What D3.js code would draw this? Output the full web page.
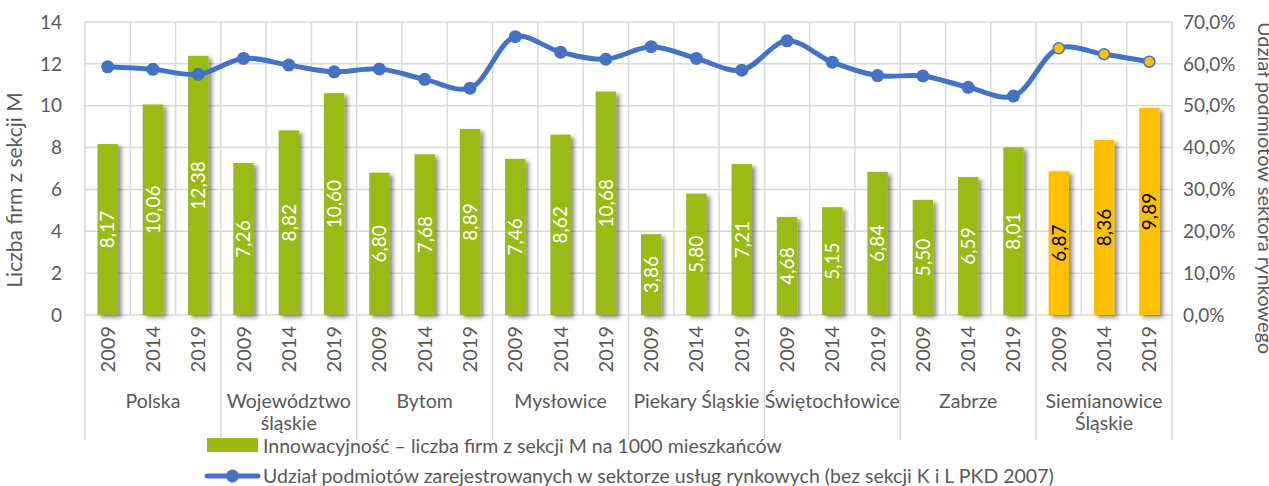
<!DOCTYPE html>
<html>
<head>
<meta charset="utf-8">
<script src="https://cdn.jsdelivr.net/npm/d3@7/dist/d3.min.js"></script>
<style>
  html, body { margin: 0; padding: 0; background: #fff; }
  svg { display: block; font-family: Lato, "Liberation Sans", sans-serif; }
</style>
</head>
<body>
<svg id="chart" width="1269" height="486"></svg>
<script>
// Regions (multi-line labels) and survey years
const regions = [
  ["Polska"],
  ["Województwo", "śląskie"],
  ["Bytom"],
  ["Mysłowice"],
  ["Piekary Śląskie"],
  ["Świętochłowice"],
  ["Zabrze"],
  ["Siemianowice", "Śląskie"]
];
const years = ["2009", "2014", "2019"];
const highlightedRegion = 7;

// Firms from section M per 1000 inhabitants (left axis)
const firms = [
  8.17, 10.06, 12.38,
  7.26, 8.82, 10.60,
  6.80, 7.68, 8.89,
  7.46, 8.62, 10.68,
  3.86, 5.80, 7.21,
  4.68, 5.15, 6.84,
  5.50, 6.59, 8.01,
  6.87, 8.36, 9.89
];

// Share of entities registered in market services, % (right axis)
const share = [
  59.3, 58.7, 57.5,
  61.3, 59.7, 58.1,
  58.8, 56.3, 54.2,
  66.5, 62.8, 61.1,
  64.1, 61.3, 58.5,
  65.5, 60.4, 57.2,
  57.1, 54.4, 52.3,
  63.7, 62.3, 60.5
];

const leftTicks = [0, 2, 4, 6, 8, 10, 12, 14];
const rightTicks = [0, 10, 20, 30, 40, 50, 60, 70];

const legendLabels = [
  "Innowacyjność – liczba firm z sekcji M na 1000 mieszkańców",
  "Udział podmiotów zarejestrowanych w sektorze usług rynkowych (bez sekcji K i L PKD 2007)"
];
const leftTitle = "Liczba firm z sekcji M";
const rightTitle = "Udział podmiotów sektora rynkowego";

const C = {
  green: "#9aba13",
  yellow: "#ffc000",
  blue: "#4472c4",
  grid: "#d9d9d9",
  text: "#595959"
};

const pl = d3.formatLocale({ decimal: ",", thousands: " ", grouping: [3], currency: ["", " zł"] });
const fmt2 = pl.format(".2f");
const fmtPct = v => pl.format(".1f")(v) + "%";

const svg = d3.select("#chart");
const M = { left: 85, right: 1172, top: 22, bottom: 315 };

// One slot per (region, year)
const rows = [];
regions.forEach((r, gi) => years.forEach((y, yi) => {
  const i = gi * years.length + yi;
  rows.push({ key: gi + "-" + y, gi, year: y, firms: firms[i], share: share[i] });
}));

const x = d3.scaleBand().domain(rows.map(d => d.key)).range([M.left, M.right]).padding(0);
const yL = d3.scaleLinear().domain([0, 14]).range([M.bottom, M.top]);
const yR = d3.scaleLinear().domain([0, 70]).range([M.bottom, M.top]);
const bw = x.bandwidth() * 0.45;

// Drop shadow for bars
const defs = svg.append("defs");
const f = defs.append("filter").attr("id", "shadow").attr("x", "-30%").attr("y", "-10%").attr("width", "180%").attr("height", "130%");
f.append("feDropShadow").attr("dx", 3.5).attr("dy", 2.5).attr("stdDeviation", 2.2).attr("flood-color", "#000").attr("flood-opacity", 0.45);

// Gridlines
const grid = svg.append("g").attr("stroke", C.grid).attr("stroke-width", 1.5);
grid.selectAll(".h").data(leftTicks).join("line")
  .attr("x1", M.left).attr("x2", M.right)
  .attr("y1", d => yL(d)).attr("y2", d => yL(d));
const slotEdges = rows.map(d => x(d.key)).concat([M.right]);
grid.selectAll(".v").data(slotEdges).join("line")
  .attr("x1", d => d).attr("x2", d => d)
  .attr("y1", M.top).attr("y2", M.bottom);

// Group separators below the axis
const groupEdges = d3.range(regions.length + 1).map(g => g === regions.length ? M.right : x(g + "-" + years[0]));
grid.selectAll(".sep").data(groupEdges).join("line")
  .attr("x1", d => d).attr("x2", d => d)
  .attr("y1", M.bottom).attr("y2", 440);

// Bars
svg.append("g").selectAll("rect").data(rows).join("rect")
  .attr("x", d => x(d.key) + (x.bandwidth() - bw) / 2)
  .attr("width", bw)
  .attr("y", d => yL(d.firms))
  .attr("height", d => yL(0) - yL(d.firms))
  .attr("fill", d => d.gi === highlightedRegion ? C.yellow : C.green)
  .attr("filter", "url(#shadow)");

// Value labels inside bars
svg.append("g").selectAll("text").data(rows).join("text")
  .attr("transform", d => `translate(${x(d.key) + x.bandwidth() / 2},${(yL(d.firms) + yL(0)) / 2}) rotate(-90)`)
  .attr("text-anchor", "middle").attr("dy", "0.36em")
  .attr("font-size", 19)
  .attr("fill", d => d.gi === highlightedRegion ? "#000" : "#fff")
  .text(d => fmt2(d.firms));

// Smoothed share line with markers
const line = d3.line()
  .x(d => x(d.key) + x.bandwidth() / 2)
  .y(d => yR(d.share))
  .curve(d3.curveCatmullRom.alpha(0.5));
svg.append("path").datum(rows)
  .attr("d", line).attr("fill", "none")
  .attr("stroke", C.blue).attr("stroke-width", 5).attr("stroke-linejoin", "round");
svg.append("g").selectAll("circle").data(rows).join("circle")
  .attr("cx", d => x(d.key) + x.bandwidth() / 2)
  .attr("cy", d => yR(d.share))
  .attr("r", d => d.gi === highlightedRegion ? 5.5 : 6.5)
  .attr("fill", d => d.gi === highlightedRegion ? C.yellow : C.blue)
  .attr("stroke", C.blue).attr("stroke-width", d => d.gi === highlightedRegion ? 1.5 : 0);

// Left axis labels
svg.append("g").selectAll("text").data(leftTicks).join("text")
  .attr("x", 62).attr("y", d => yL(d)).attr("dy", "0.35em")
  .attr("text-anchor", "end").attr("font-size", 19).attr("fill", C.text)
  .text(d => d);

// Right axis labels
svg.append("g").selectAll("text").data(rightTicks).join("text")
  .attr("x", 1183).attr("y", d => yR(d)).attr("dy", "0.35em")
  .attr("text-anchor", "start").attr("font-size", 19).attr("fill", C.text)
  .text(d => fmtPct(d));

// Axis titles
svg.append("text")
  .attr("transform", "translate(15,190) rotate(-90)")
  .attr("text-anchor", "middle").attr("dy", "0.35em")
  .attr("font-size", 21).attr("fill", C.text)
  .text(leftTitle);
svg.append("text")
  .attr("transform", "translate(1265,188) rotate(90)")
  .attr("text-anchor", "middle").attr("dy", "0.35em")
  .attr("font-size", 20).attr("fill", C.text)
  .text(rightTitle);

// Year labels
svg.append("g").selectAll("text").data(rows).join("text")
  .attr("transform", d => `translate(${x(d.key) + x.bandwidth() / 2},326) rotate(-90)`)
  .attr("text-anchor", "end").attr("dy", "0.35em")
  .attr("font-size", 20).attr("fill", C.text)
  .text(d => d.year);

// Region labels
const gl = svg.append("g").selectAll("text").data(regions).join("text")
  .attr("text-anchor", "middle").attr("font-size", 19.5).attr("fill", C.text)
  .attr("x", (d, i) => (groupEdges[i] + groupEdges[i + 1]) / 2)
  .attr("y", 408);
gl.selectAll("tspan").data(d => d).join("tspan")
  .attr("x", function () { return d3.select(this.parentNode).attr("x"); })
  .attr("dy", (d, i) => i === 0 ? 0 : 22)
  .text(d => d);

// Legend
const lg = svg.append("g");
lg.append("rect").attr("x", 207).attr("y", 438).attr("width", 51).attr("height", 14).attr("fill", C.green);
lg.append("text").attr("x", 263).attr("y", 446).attr("dy", "0.35em")
  .attr("font-size", 19.5).attr("fill", C.text).text(legendLabels[0]);
lg.append("line").attr("x1", 207).attr("x2", 258).attr("y1", 476).attr("y2", 476)
  .attr("stroke", C.blue).attr("stroke-width", 5).attr("stroke-linecap", "round");
lg.append("circle").attr("cx", 232.5).attr("cy", 476).attr("r", 6.5).attr("fill", C.blue);
lg.append("text").attr("x", 263).attr("y", 476).attr("dy", "0.35em")
  .attr("font-size", 19.5).attr("fill", C.text).text(legendLabels[1]);
</script>
</body>
</html>
